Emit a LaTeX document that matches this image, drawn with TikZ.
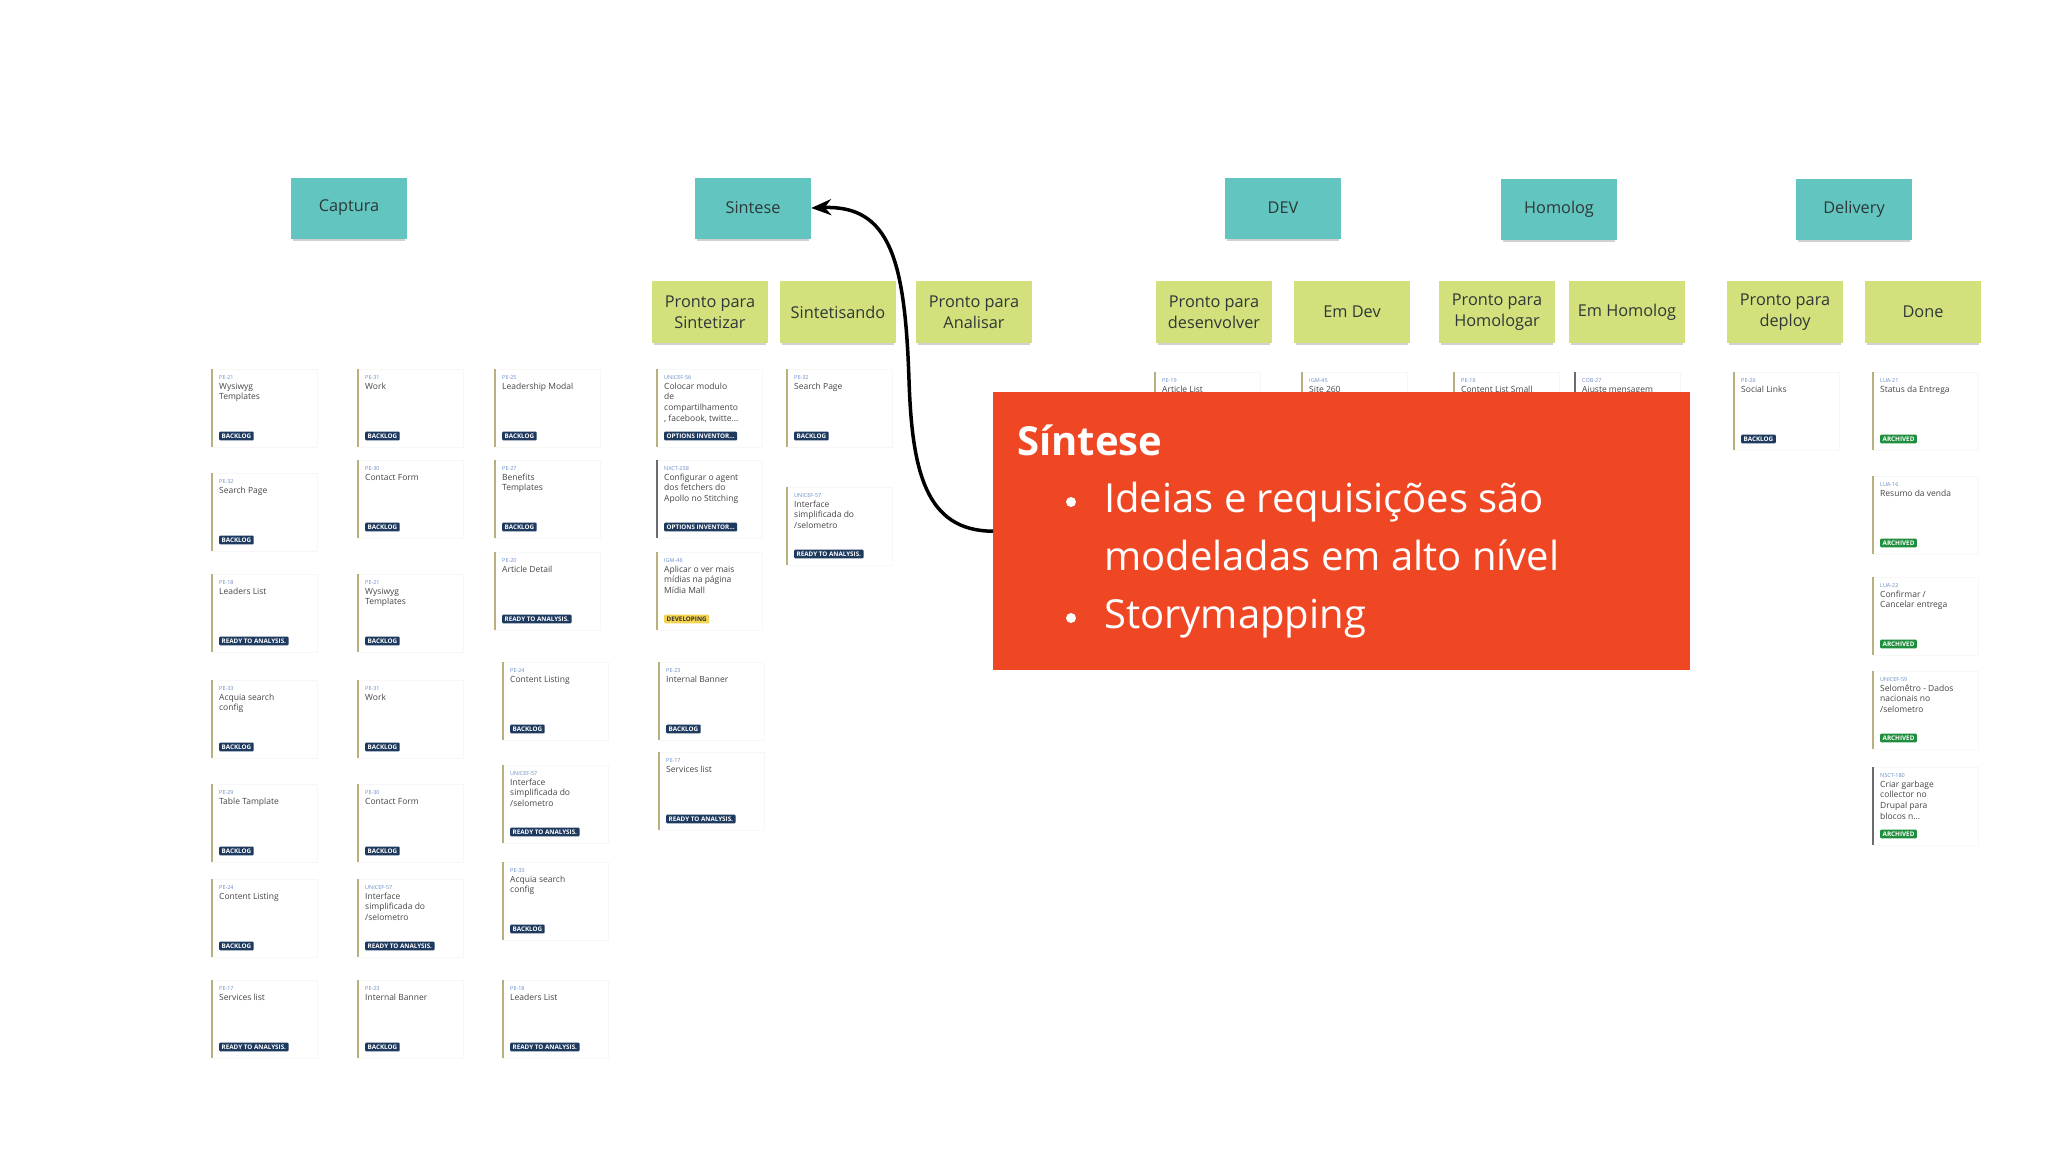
\documentclass[tikz,border=0pt]{standalone}
\usepackage{fontspec}
\setmainfont{Open Sans}
\usetikzlibrary{arrows.meta,shadows}
\definecolor{stickyteal}{HTML}{62C5C0}
\definecolor{stickygreen}{HTML}{D4E07C}
\definecolor{stickytext}{HTML}{2E3838}
\definecolor{notered}{HTML}{EF4723}
\definecolor{navy}{HTML}{1E3A5F}
\definecolor{idblue}{HTML}{6A8CC6}
\definecolor{titlegray}{HTML}{454545}
\definecolor{olivebar}{HTML}{B8B17E}
\definecolor{graybar}{HTML}{6B6B70}
\definecolor{devyellow}{HTML}{F3D350}
\definecolor{archgreen}{HTML}{1F8E3D}
\tikzset{
  sticky/.style={minimum width=116pt, minimum height=61pt, inner sep=0pt,
    font=\fontsize{16.3}{21}\selectfont, text=stickytext, align=center,
    drop shadow={shadow xshift=0pt, shadow yshift=-3pt, shadow scale=0.97, opacity=0.18, fill=black}},
  hdr/.style={sticky, fill=stickyteal},
  sub/.style={sticky, fill=stickygreen, minimum height=62pt},
  cardbox/.style={anchor=north west, minimum width=105pt, minimum height=78pt,
    inner sep=0pt, fill=white, draw=black!3},
  cardbar/.style={line width=2pt},
  cid/.style={anchor=base west, inner sep=0pt, font=\fontsize{5.5}{6}\selectfont, text=idblue},
  ctitle/.style={anchor=north west, inner sep=0pt, align=left,
    font=\fontsize{8.5}{10.7}\selectfont, text=titlegray},
  badge/.style={anchor=west, inner xsep=2.5pt, inner ysep=1.7pt, rounded corners=1pt,
    text height=4.6pt, text depth=0.6pt, font=\bfseries\fontsize{6.3}{6.3}\selectfont},
  bl/.style={badge, fill=navy, text=white},
  dv/.style={badge, fill=devyellow, text=black!80},
  ar/.style={badge, fill=archgreen, text=white},
  redbox/.style={anchor=north west, fill=notered, minimum width=697pt, minimum height=278pt, inner sep=0pt},
  notetitle/.style={anchor=base west, inner sep=0pt, text=white, font=\bfseries\fontsize{40}{48}\selectfont},
  notetext/.style={anchor=base west, inner sep=0pt, text=white, font=\fontsize{40}{48}\selectfont},
  link/.style={line width=3.5pt, black, -{Stealth[length=20pt,width=16pt]}}
}
% name, x, y, bar colour, id, title, badge style, badge text
\newcommand{\kcard}[8]{%
  \node[cardbox] (#1) at (#2,#3) {};
  \draw[cardbar,draw=#4] (#1.north west) -- (#1.south west);
  \node[cid] (#1-id) at ([xshift=7pt,yshift=-10pt]#1.north west) {#5};
  \node[ctitle] (#1-t) at ([xshift=7pt,yshift=-12.5pt]#1.north west) {\strut #6};
  \node[#7] (#1-b) at ([xshift=7pt,yshift=-67pt]#1.north west) {#8};
}
\newcommand{\kcardnb}[6]{%
  \node[cardbox] (#1) at (#2,#3) {};
  \draw[cardbar,draw=#4] (#1.north west) -- (#1.south west);
  \node[cid] (#1-id) at ([xshift=7pt,yshift=-10pt]#1.north west) {#5};
  \node[ctitle] (#1-t) at ([xshift=7pt,yshift=-12.5pt]#1.north west) {\strut #6};
}
\begin{document}
\begin{tikzpicture}[x=1pt,y=-1pt]
\useasboundingbox (0,0) rectangle (2048,1152);
\fill[white] (0,0) rectangle (2048,1152);

% headers
\node[hdr] (captura) at (349,208) {Captura};
\node[hdr] (sintese) at (753,208) {Sintese};
\node[hdr] (dev) at (1283,208) {DEV};
\node[hdr] (homolog) at (1559,209) {Homolog};
\node[hdr] (delivery) at (1854,209) {Delivery};

\node[sub] (pps) at (710,312) {Pronto para\\Sintetizar};
\node[sub] (sintetisando) at (838,312) {Sintetisando};
\node[sub] (ppa) at (974,312) {Pronto para\\Analisar};
\node[sub] (ppd) at (1214,312) {Pronto para\\desenvolver};
\node[sub] (emdev) at (1352,312) {Em Dev};
\node[sub] (pph) at (1497,312) {Pronto para\\Homologar};
\node[sub] (emh) at (1627,312) {Em Homolog};
\node[sub] (ppdep) at (1785,312) {Pronto para\\deploy};
\node[sub] (done) at (1923,312) {Done};

% column 1
\kcard{a1}{212}{369}{olivebar}{PE-21}{Wysiwyg\\Templates}{bl}{BACKLOG}
\kcard{a2}{212}{473}{olivebar}{PE-32}{Search Page}{bl}{BACKLOG}
\kcard{a3}{212}{574}{olivebar}{PE-18}{Leaders List}{bl}{READY TO ANALYSIS.}
\kcard{a4}{212}{680}{olivebar}{PE-33}{Acquia search\\config}{bl}{BACKLOG}
\kcard{a5}{212}{784}{olivebar}{PE-29}{Table Tamplate}{bl}{BACKLOG}
\kcard{a6}{212}{879}{olivebar}{PE-24}{Content Listing}{bl}{BACKLOG}
\kcard{a7}{212}{980}{olivebar}{PE-17}{Services list}{bl}{READY TO ANALYSIS.}
% column 2
\kcard{b1}{358}{369}{olivebar}{PE-31}{Work}{bl}{BACKLOG}
\kcard{b2}{358}{460}{olivebar}{PE-30}{Contact Form}{bl}{BACKLOG}
\kcard{b3}{358}{574}{olivebar}{PE-21}{Wysiwyg\\Templates}{bl}{BACKLOG}
\kcard{b4}{358}{680}{olivebar}{PE-31}{Work}{bl}{BACKLOG}
\kcard{b5}{358}{784}{olivebar}{PE-30}{Contact Form}{bl}{BACKLOG}
\kcard{b6}{358}{879}{olivebar}{UNICEF-57}{Interface\\simplificada do\\/selometro}{bl}{READY TO ANALYSIS.}
\kcard{b7}{358}{980}{olivebar}{PE-23}{Internal Banner}{bl}{BACKLOG}
% column 3
\kcard{c1}{495}{369}{olivebar}{PE-25}{Leadership Modal}{bl}{BACKLOG}
\kcard{c2}{495}{460}{olivebar}{PE-27}{Benefits\\Templates}{bl}{BACKLOG}
\kcard{c3}{495}{552}{olivebar}{PE-20}{Article Detail}{bl}{READY TO ANALYSIS.}
\kcard{c4}{503}{662}{olivebar}{PE-24}{Content Listing}{bl}{BACKLOG}
\kcard{c5}{503}{765}{olivebar}{UNICEF-57}{Interface\\simplificada do\\/selometro}{bl}{READY TO ANALYSIS.}
\kcard{c6}{503}{862}{olivebar}{PE-33}{Acquia search\\config}{bl}{BACKLOG}
\kcard{c7}{503}{980}{olivebar}{PE-18}{Leaders List}{bl}{READY TO ANALYSIS.}
% Pronto para Sintetizar
\kcard{d1}{657}{369}{olivebar}{UNICEF-56}{Colocar modulo\\de\\compartilhamento\\, facebook, twitte...}{bl}{OPTIONS INVENTOR...}
\kcard{d2}{657}{460}{graybar}{NXCT-238}{Configurar o agent\\dos fetchers do\\Apollo no Stitching}{bl}{OPTIONS INVENTOR...}
\kcard{d3}{657}{552}{olivebar}{IGM-46}{Aplicar o ver mais\\mídias na página\\Mídia Mall}{dv}{DEVELOPING}
\kcard{d4}{659}{662}{olivebar}{PE-23}{Internal Banner}{bl}{BACKLOG}
\kcard{d5}{659}{752}{olivebar}{PE-17}{Services list}{bl}{READY TO ANALYSIS.}
% Sintetisando
\kcard{e1}{787}{369}{olivebar}{PE-32}{Search Page}{bl}{BACKLOG}
\kcard{e2}{787}{487}{olivebar}{UNICEF-57}{Interface\\simplificada do\\/selometro}{bl}{READY TO ANALYSIS.}
% DEV / Homolog (mostly hidden)
\kcardnb{f1}{1155}{372}{olivebar}{PE-19}{Article List}
\kcardnb{f2}{1302}{372}{olivebar}{IGM-45}{Site 260}
\kcardnb{f3}{1454}{372}{olivebar}{PE-16}{Content List Small}
\kcardnb{f4}{1575}{372}{graybar}{COB-27}{Ajuste mensagem}
% Delivery
\kcard{g1}{1734}{372}{olivebar}{PE-26}{Social Links}{bl}{BACKLOG}
\kcard{h1}{1873}{372}{olivebar}{LUA-21}{Status da Entrega}{ar}{ARCHIVED}
\kcard{h2}{1873}{476}{olivebar}{LUA-16}{Resumo da venda}{ar}{ARCHIVED}
\kcard{h3}{1873}{577}{olivebar}{LUA-22}{Confirmar /\\Cancelar entrega}{ar}{ARCHIVED}
\kcard{h4}{1873}{671}{olivebar}{UNICEF-59}{Selomêtro - Dados\\nacionais no\\/selometro}{ar}{ARCHIVED}
\kcard{h5}{1873}{767}{graybar}{NSCT-180}{Criar garbage\\collector no\\Drupal para\\blocos n...}{ar}{ARCHIVED}

% red note
\node[redbox] (note) at (993,392) {};
\node[notetitle] (nt) at (1017,455) {Síntese};
\fill[white] (1071,502) circle (5);
\node[notetext] (n1) at (1104,512) {Ideias e requisições são};
\node[notetext] (n2) at (1104,570) {modeladas em alto nível};
\fill[white] (1071,618) circle (5);
\node[notetext] (n3) at (1104,628) {Storymapping};

% arrow
\draw[link] (note.west) .. controls (925,531) and (912,470) .. (909,380)
  .. controls (905,260) and (890,205) .. (sintese.east);
\end{tikzpicture}
\end{document}
